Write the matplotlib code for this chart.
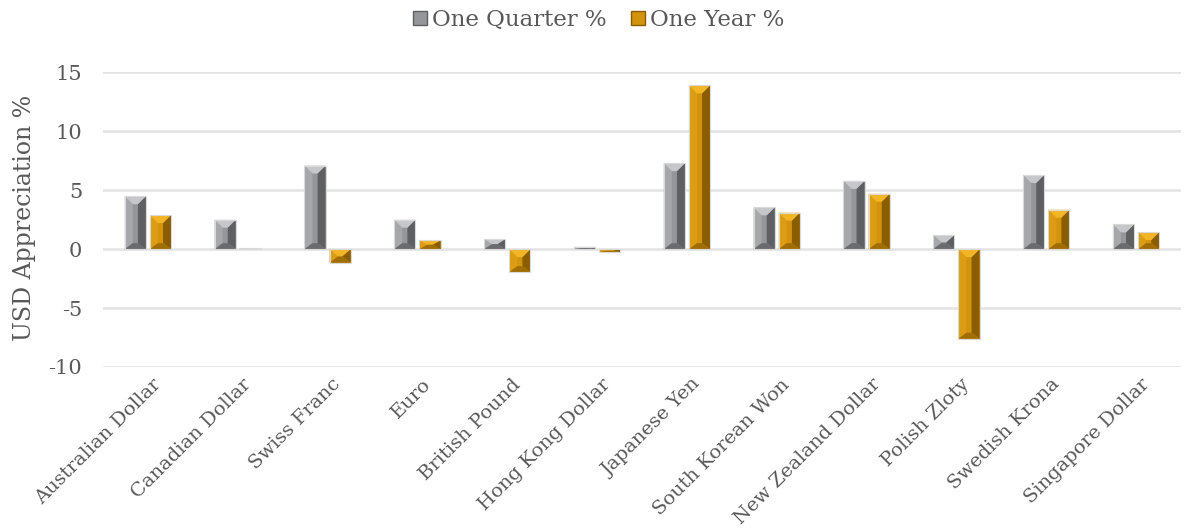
import numpy as np
import matplotlib.pyplot as plt
import matplotlib.transforms as mtransforms
from matplotlib.patches import Polygon, Patch

# Data
currencies = ["Australian Dollar", "Canadian Dollar", "Swiss Franc", "Euro",
              "British Pound", "Hong Kong Dollar", "Japanese Yen",
              "South Korean Won", "New Zealand Dollar", "Polish Zloty",
              "Swedish Krona", "Singapore Dollar"]
one_quarter = [4.5, 2.5, 7.1, 2.5, 0.85, 0.2, 7.3, 3.55, 5.8, 1.2, 6.3, 2.1]
one_year = [2.9, 0.1, -1.15, 0.75, -1.95, -0.25, 13.9, 3.1, 4.7, -7.6, 3.35, 1.45]

# face, left, right, top, bottom shades for the bevelled bars
gray_shades = ["#95969a", "#a6a7ab", "#5e5f63", "#c6c7ca", "#6a6b6f"]
gold_shades = ["#d3930c", "#dc9c14", "#8a5e00", "#f2b526", "#a06e05"]

plt.rcParams['font.family'] = ['DejaVu Serif']
plt.rcParams['axes.unicode_minus'] = False
text_color = "#595959"

fig = plt.figure(figsize=(11.88, 5.31), dpi=100)
ax = fig.add_axes([0.0867, 0.3089, 0.9074, 0.5546])

x = np.arange(len(currencies))
ax.set_xlim(-0.5, len(currencies) - 0.5)
ax.set_ylim(-10, 15)

# pixels per data unit, used to size the bevels
ax_w = fig.get_figwidth() * fig.dpi * 0.9074
ax_h = fig.get_figheight() * fig.dpi * 0.5546
px_x = ax_w / len(currencies)
px_y = ax_h / 25.0

bar_w = 0.235
offset = 0.14


def bevel_bar(xc, val, shades):
    x0, x1 = xc - bar_w / 2, xc + bar_w / 2
    lo, hi = min(0, val), max(0, val)
    dx = min(8 / px_x, bar_w / 2 * 0.85)
    dyt = min(8 / px_y, (hi - lo) / 2)
    dyb = min(6 / px_y, (hi - lo) / 2)
    ix0, ix1 = x0 + dx, x1 - dx
    iy0, iy1 = lo + dyb, hi - dyt
    face, left, right, top, bottom = shades
    ax.add_patch(Polygon([(x0, lo), (x1, lo), (x1, hi), (x0, hi)],
                         closed=True, facecolor=face, edgecolor="none", zorder=3))
    ax.add_patch(Polygon([(x0, lo), (ix0, iy0), (ix0, iy1), (x0, hi)],
                         facecolor=left, edgecolor="none", zorder=3))
    ax.add_patch(Polygon([(x1, lo), (ix1, iy0), (ix1, iy1), (x1, hi)],
                         facecolor=right, edgecolor="none", zorder=3))
    ax.add_patch(Polygon([(x0, hi), (ix0, iy1), (ix1, iy1), (x1, hi)],
                         facecolor=top, edgecolor="none", zorder=3))
    ax.add_patch(Polygon([(x0, lo), (ix0, iy0), (ix1, iy0), (x1, lo)],
                         facecolor=bottom, edgecolor="none", zorder=3))
    ax.add_patch(Polygon([(x0, lo), (x1, lo), (x1, hi), (x0, hi)],
                         closed=True, facecolor="none", edgecolor="#d9d9d9",
                         linewidth=0.8, zorder=4))


for i in range(len(currencies)):
    bevel_bar(x[i] - offset, one_quarter[i], gray_shades)
    bevel_bar(x[i] + offset, one_year[i], gold_shades)

ax.set_yticks([-10, -5, 0, 5, 10, 15])
ax.yaxis.grid(True, color="#e3e3e3", linewidth=1.8, zorder=0)
ax.set_axisbelow(True)
for s in ax.spines.values():
    s.set_visible(False)
ax.tick_params(axis="both", length=0, colors=text_color)
ax.tick_params(axis="y", pad=15, labelsize=15)
ax.set_xticks(x)
ax.set_xticklabels(currencies, rotation=45, ha="right", rotation_mode="anchor",
                   fontsize=14)
ax.tick_params(axis="x", pad=6)
shift = mtransforms.ScaledTranslation(3 / 72, 0, fig.dpi_scale_trans)
for lbl in ax.get_xticklabels():
    lbl.set_transform(lbl.get_transform() + shift)

fig.text(25 / 1188, 0.59, "USD Appreciation %", rotation=90, ha="center", va="center",
         fontsize=17, color=text_color)

handles = [Patch(facecolor=gray_shades[0], edgecolor=gray_shades[2], label="One Quarter %"),
           Patch(facecolor=gold_shades[0], edgecolor=gold_shades[2], label="One Year %")]
leg = fig.legend(handles=handles, loc="center", bbox_to_anchor=(0.504, 0.962), ncol=2,
                 frameon=False, fontsize=16.5, handlelength=0.6, handleheight=0.6,
                 handletextpad=0.2, columnspacing=1.1)
for t in leg.get_texts():
    t.set_color(text_color)

fig.savefig("out.png", dpi=100)
